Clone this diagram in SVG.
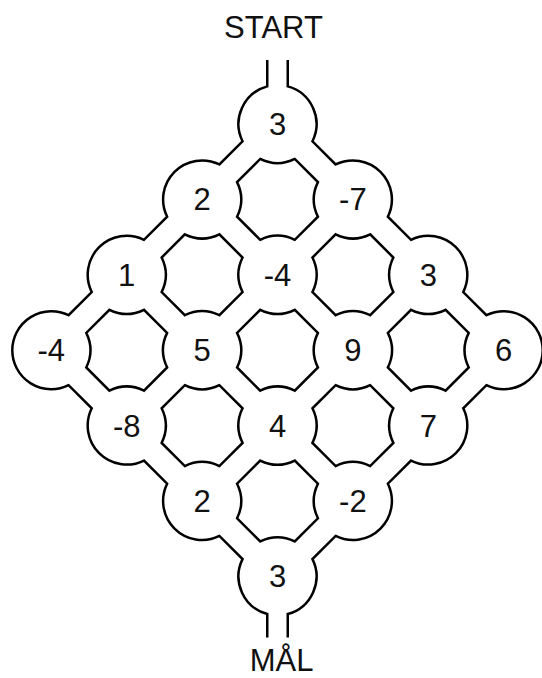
<svg xmlns="http://www.w3.org/2000/svg" xmlns:xlink="http://www.w3.org/1999/xlink" width="542" height="678" viewBox="0 0 542 678">
  <style>
    .wall { fill: none; stroke: #000; stroke-width: 2.5; stroke-linejoin: miter; stroke-linecap: butt; }
    .lbl { font-family: "Liberation Sans", Arial, sans-serif; font-size: 31px; text-anchor: middle; fill: #111; }
  </style>
  <defs>
    <path id="island" class="wall" d="M -17.28 -40.44 A 39 39 0 0 0 17.28 -40.44 L 40.44 -17.28 A 39 39 0 0 0 40.44 17.28 L 17.28 40.44 A 39 39 0 0 0 -17.28 40.44 L -40.44 17.28 A 39 39 0 0 0 -40.44 -17.28 Z"/>
  </defs>
  <rect width="542" height="678" fill="#fff"/>

  <g id="connectors">
    <path class="wall" d="M 287.75 60 L 287.75 86.37 A 39 39 0 0 1 312.46 141.28 L 335.62 164.44 A 39 39 0 0 1 387.86 216.68 L 411.02 239.84 A 39 39 0 0 1 463.26 292.08 L 486.42 315.24 A 39 39 0 1 1 486.42 385.16 L 463.26 408.32 A 39 39 0 0 1 411.02 460.56 L 387.86 483.72 A 39 39 0 0 1 335.62 535.96 L 312.46 559.12 A 39 39 0 0 1 287.75 614.03 L 287.75 637.5"/>
    <path class="wall" d="M 267.25 637.5 L 267.25 614.03 A 39 39 0 0 1 242.54 559.12 L 219.38 535.96 A 39 39 0 0 1 167.14 483.72 L 143.98 460.56 A 39 39 0 0 1 91.74 408.32 L 68.58 385.16 A 39 39 0 1 1 68.58 315.24 L 91.74 292.08 A 39 39 0 0 1 143.98 239.84 L 167.14 216.68 A 39 39 0 0 1 219.38 164.44 L 242.54 141.28 A 39 39 0 0 1 267.25 86.37 L 267.25 60"/>
    <use xlink:href="#island" href="#island" transform="translate(277.5 199.4)"/>
    <use xlink:href="#island" href="#island" transform="translate(352.9 274.8)"/>
    <use xlink:href="#island" href="#island" transform="translate(202.1 274.8)"/>
    <use xlink:href="#island" href="#island" transform="translate(428.3 350.2)"/>
    <use xlink:href="#island" href="#island" transform="translate(277.5 350.2)"/>
    <use xlink:href="#island" href="#island" transform="translate(126.7 350.2)"/>
    <use xlink:href="#island" href="#island" transform="translate(352.9 425.6)"/>
    <use xlink:href="#island" href="#island" transform="translate(202.1 425.6)"/>
    <use xlink:href="#island" href="#island" transform="translate(277.5 501)"/>
  </g>

  <g id="start"><text class="lbl" x="273.5" y="37.5">START</text></g>
  <g id="goal"><text class="lbl" x="281.5" y="671">MÅL</text></g>

  <g id="n00"><text class="lbl" x="277.5" y="135">3</text></g>
  <g id="n01"><text class="lbl" x="202.1" y="210.4">2</text></g>
  <g id="n10"><text class="lbl" x="352.9" y="210.4">-7</text></g>
  <g id="n02"><text class="lbl" x="126.7" y="285.8">1</text></g>
  <g id="n11"><text class="lbl" x="277.5" y="285.8">-4</text></g>
  <g id="n20"><text class="lbl" x="428.3" y="285.8">3</text></g>
  <g id="n03"><text class="lbl" x="51.3" y="361.2">-4</text></g>
  <g id="n12"><text class="lbl" x="202.1" y="361.2">5</text></g>
  <g id="n21"><text class="lbl" x="352.9" y="361.2">9</text></g>
  <g id="n30"><text class="lbl" x="503.7" y="361.2">6</text></g>
  <g id="n13"><text class="lbl" x="126.7" y="436.6">-8</text></g>
  <g id="n22"><text class="lbl" x="277.5" y="436.6">4</text></g>
  <g id="n31"><text class="lbl" x="428.3" y="436.6">7</text></g>
  <g id="n23"><text class="lbl" x="202.1" y="512">2</text></g>
  <g id="n32"><text class="lbl" x="352.9" y="512">-2</text></g>
  <g id="n33"><text class="lbl" x="277.5" y="587.4">3</text></g>
</svg>
